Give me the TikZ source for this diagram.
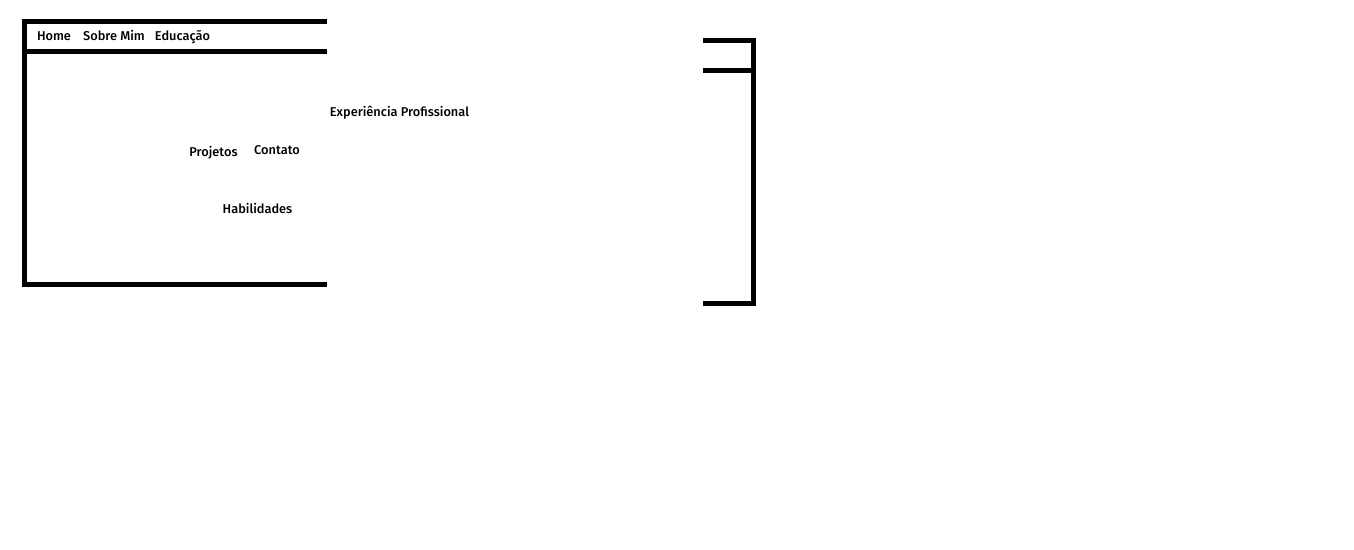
\documentclass[tikz,border=0pt]{standalone}
\usepackage{fontspec}
\setmainfont{Fira Sans Medium}
\begin{document}
\begin{tikzpicture}[x=0.75pt,y=-0.75pt,
  frame/.style={line width=3.75pt,line cap=rect},
  lbl/.style={font=\fontsize{9.6pt}{11pt}\selectfont,inner sep=0pt,anchor=base}]
\useasboundingbox (0,0) rectangle (1354,550);
% left frame
\draw[frame] (324.2,21.7) -- (24.8,21.7) -- (24.8,284.3) -- (324.2,284.3);
\draw[frame] (24.8,51.3) -- (324.2,51.3);
% right bracket
\draw[frame] (705.2,40.8) -- (753.3,40.8) -- (753.3,303.5) -- (705.2,303.5);
\draw[frame] (705.2,70.5) -- (753.3,70.5);
% labels
\node[lbl] (home) at (54,40.3) {Home};
\node[lbl] (sobre) at (114,40.3) {Sobre Mim};
\node[lbl] (edu) at (182.5,40.3) {Educação};
\node[lbl] (exp) at (399.5,116.6) {Experiência Profissional};
\node[lbl] (proj) at (213.5,156.3) {Projetos};
\node[lbl] (cont) at (277,154) {Contato};
\node[lbl] (hab) at (257.5,213.3) {Habilidades};
\end{tikzpicture}
\end{document}
